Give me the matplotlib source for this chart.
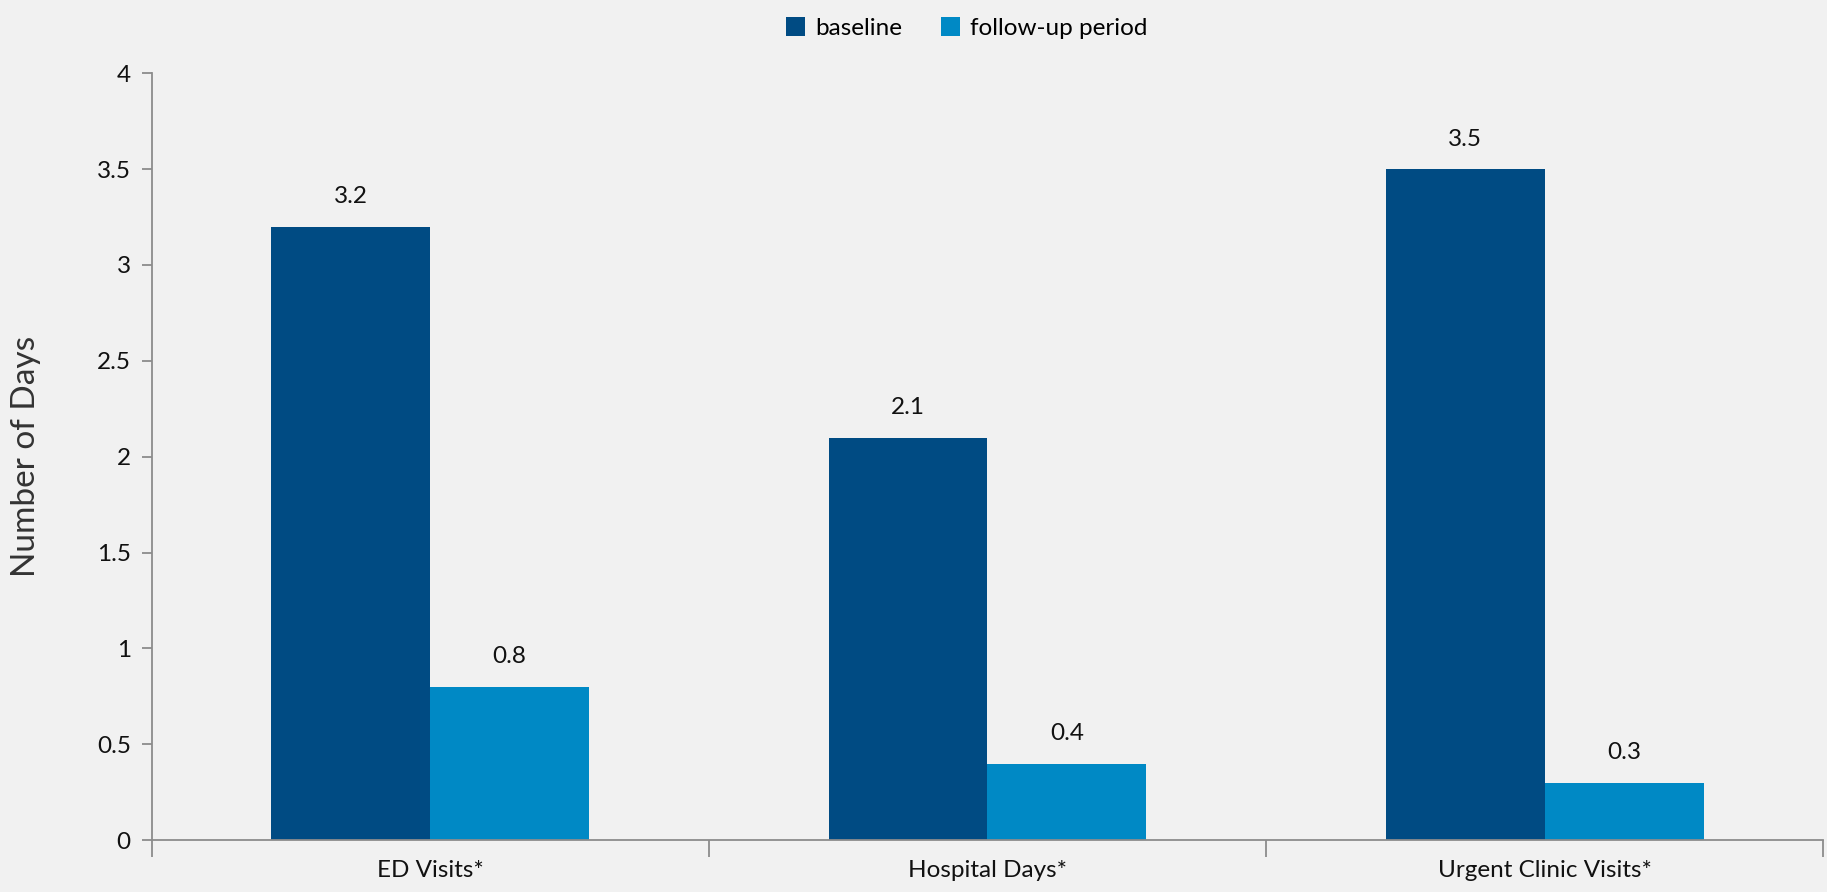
import matplotlib
matplotlib.use("Agg")
import matplotlib.pyplot as plt
import numpy as np

# values
categories = ["ED Visits*", "Hospital Days*", "Urgent Clinic Visits*"]
baseline = [3.2, 2.1, 3.5]
follow_up = [0.8, 0.4, 0.3]
series_names = ["baseline", "follow-up period"]
y_ticks = [0, 0.5, 1, 1.5, 2, 2.5, 3, 3.5, 4]

plt.rcParams['font.family'] = ['Lato', 'DejaVu Sans']

bg = "#f1f1f1"
c_base = "#004b83"
c_follow = "#0089c5"
axis_grey = "#8c8c8c"

fig = plt.figure(figsize=(18.27, 8.92), dpi=100, facecolor=bg)
ax = fig.add_axes([0.083, 0.058, 0.915, 0.860], facecolor=bg)

x = np.arange(len(categories))
w = 0.285
b1 = ax.bar(x - w/2, baseline, w, color=c_base, label=series_names[0])
b2 = ax.bar(x + w/2, follow_up, w, color=c_follow, label=series_names[1])

for bars, vals in ((b1, baseline), (b2, follow_up)):
    for rect, v in zip(bars, vals):
        ax.annotate(f"{v:g}", (rect.get_x() + rect.get_width()/2, v),
                    xytext=(0, 14), textcoords="offset points",
                    ha="center", va="bottom", fontsize=17.5, color="#111111")

ax.set_xlim(-0.5, len(categories) - 0.5)
ax.set_ylim(0, 4)
ax.set_yticks(y_ticks)
ax.set_yticklabels([f"{t:g}" for t in y_ticks])
ax.set_xticks(x)
ax.set_xticklabels(categories)
ax.set_xticks(np.arange(len(categories) + 1) - 0.5, minor=True)
ax.tick_params(axis="x", which="major", length=0, pad=14, labelsize=17.5, labelcolor="#111111")
ax.tick_params(axis="x", which="minor", length=12, color=axis_grey, width=1.3)
ax.tick_params(axis="y", length=7, color=axis_grey, width=1.3, pad=8, labelsize=17.5,
               labelcolor="#111111")

for s in ("top", "right"):
    ax.spines[s].set_visible(False)
for s in ("left", "bottom"):
    ax.spines[s].set_color(axis_grey)
    ax.spines[s].set_linewidth(1.3)

ax.set_ylabel("Number of Days", fontsize=24, color="#333333", labelpad=40)

fig.legend(loc="upper center", bbox_to_anchor=(0.529, 1.005), ncol=2, frameon=False,
           fontsize=17.5, handlelength=0.8, handleheight=0.8, handletextpad=0.4,
           columnspacing=1.6)

fig.savefig("out.png", dpi=100, facecolor=bg)
